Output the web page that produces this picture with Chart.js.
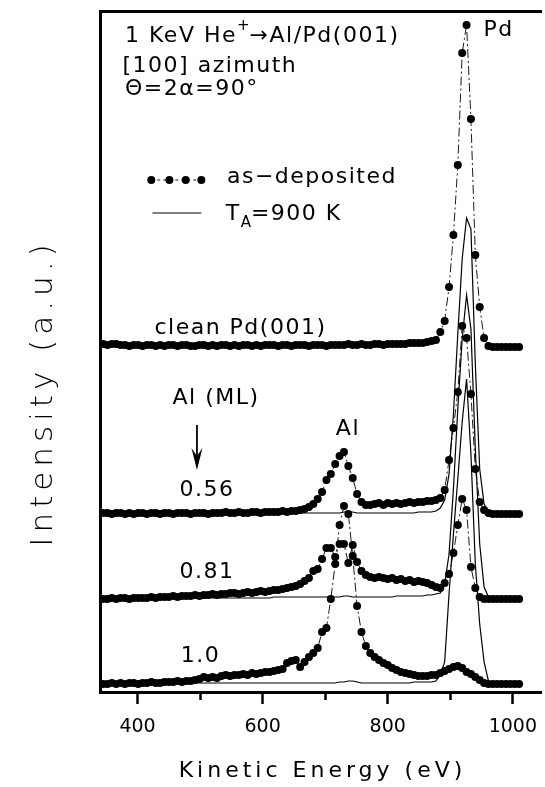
<!DOCTYPE html>
<html>
<head>
<meta charset="utf-8">
<script src="https://cdn.jsdelivr.net/npm/chart.js@4.4.0/dist/chart.umd.min.js"></script>
<style>
html,body{margin:0;padding:0;background:#fff;}
canvas{display:block;}
</style>
</head>
<body>
<canvas id="c" width="545" height="787"></canvas>
<script>
// ---------- data (energies in eV, intensities in arbitrary units above each spectrum's baseline) ----------
const energies = [
 345,352,359,366,373,380,387,394,401,408,
 415,422,429,436,443,450,457,464,471,478,
 485,492,499,506,513,520,527,534,541,548,
 555,562,569,576,583,590,597,604,611,618,
 625,632,639,646,653,660,667,674,681,688,
 695,702,709,716,723,730,737,744,751,758,
 765,772,779,786,793,800,807,814,821,828,
 835,842,849,856,863,870,877,884,891,898,
 905,912,919,926,933,940,947,954,961,968,
 975,982,989,996,1003,1010
];

// vertical offsets of the stacked spectra
const offsetClean = 346;
const offset056 = 178;
const offset081 = 93;
const offset10 = 8;

// clean Pd(001), as measured (dots)
const cleanDots = [
 2,1,2,2,1,1,0,1,1,0,
 1,1,0,1,0,1,1,0,1,1,
 0,0,1,1,0,1,0,1,1,0,
 1,0,1,1,0,1,0,1,1,1,
 0,1,1,0,1,1,1,0,1,1,
 1,0,1,1,1,1,2,1,1,2,
 1,1,2,2,1,2,2,2,2,2,
 3,3,3,3,4,5,6,14,25,59,
 111,181,293,321,227,91,39,8,0,-1,
 -1,-1,-1,-1,-1,-1
];

// 0.56 ML Al, as-deposited (dots)
const dots056 = [
 1,1,0,1,1,0,1,0,1,1,
 0,1,1,0,1,1,0,1,1,1,
 0,1,1,1,0,1,1,1,2,1,
 1,2,1,1,2,2,1,2,2,2,
 2,3,2,3,3,4,5,7,10,15,
 22,34,40,50,58,62,48,36,20,12,
 9,9,10,11,9,11,10,11,10,11,
 12,11,12,12,13,13,14,16,24,54,
 86,122,188,176,120,45,12,4,1,0,
 0,0,0,0,0,0
];
// 0.56 ML Al, annealed T_A = 900 K (line)
const line056 = [
 0,0,0,0,0,0,0,0,0,1,
 1,1,1,1,1,1,1,1,1,1,
 1,1,1,1,1,1,1,1,1,1,
 1,1,1,1,1,1,1,1,1,1,
 1,1,1,1,1,1,1,1,1,1,
 1,1,1,1,1,2,2,2,1,1,
 1,1,1,1,1,1,1,1,1,1,
 1,1,2,2,2,2,3,6,14,40,
 100,180,255,296,285,150,45,10,2,0,
 0,0,0,0,0,0
];

// 0.81 ML Al, as-deposited (dots)
const dots081 = [
 0,0,1,0,1,1,0,1,1,1,
 1,2,1,2,2,2,3,2,3,3,
 3,4,3,4,4,5,4,5,5,6,
 6,5,6,7,6,7,8,7,8,9,
 9,10,11,12,13,15,18,21,28,30,
 40,51,51,42,55,55,36,54,37,28,
 24,22,21,22,21,20,21,19,20,18,
 19,17,18,17,16,14,12,11,16,25,
 46,74,100,89,32,11,2,0,0,0,
 0,0,0,0,0,0
];
// 0.81 ML Al, annealed (line)
const line081 = [
 0,0,0,0,0,0,0,0,0,0,
 0,0,1,1,1,1,1,1,1,1,
 1,1,1,1,1,1,1,1,1,1,
 1,1,1,1,1,1,1,1,1,2,
 2,2,2,2,2,2,2,2,2,2,
 2,2,2,2,2,3,3,2,2,2,
 2,2,2,2,2,2,2,3,3,3,
 3,3,3,3,4,4,5,6,15,45,
 110,190,260,304,270,150,55,12,2,0,
 0,0,0,0,0,0
];

// 1.0 ML Al, as-deposited (dots)
const dots10 = [
 0,0,1,0,1,0,1,1,0,1,
 1,2,1,1,2,2,2,3,2,3,
 3,4,5,7,6,7,6,8,9,8,
 9,9,10,9,11,10,11,12,12,13,
 14,15,21,23,24,17,22,27,31,36,
 52,56,85,120,159,178,170,128,78,52,
 38,31,27,24,21,19,16,14,12,11,
 10,9,8,8,8,9,9,11,13,15,
 17,18,16,12,10,7,4,1,0,0,
 0,0,0,0,0,0
];
// 1.0 ML Al, annealed (line)
const line10 = [
 0,0,0,0,0,0,0,0,0,0,
 0,0,0,0,0,0,0,0,1,1,
 1,1,1,1,1,1,1,1,1,1,
 1,1,1,1,1,1,1,1,1,1,
 1,1,1,1,1,1,1,1,1,1,
 1,1,1,1,2,2,3,3,2,1,
 1,1,1,1,1,1,1,1,1,1,
 1,2,2,2,2,2,3,9,22,90,
 150,205,262,305,230,120,60,22,3,1,
 0,0,0,0,0,0
];

// axis ticks
const xTickValues = [400,500,600,700,800,900,1000];
const xTickLabels = ['400','','600','','800','','1000'];
const xTitle = 'Kinetic Energy (eV)';
const yTitle = 'Intensity (a.u.)';

// text annotations placed in data coordinates (energy, intensity)
const annotations = [
 {e:380, v:656, runs:[{t:'1 KeV He'},{t:'+',sup:true},{t:'\u2192Al/Pd(001)'}]},
 {e:376, v:626, runs:[{t:'[100] azimuth'}]},
 {e:380, v:603, runs:[{t:'\u0398=2\u03b1=90\u00b0'}]},
 {e:543, v:515, runs:[{t:'as\u2212deposited'}]},
 {e:541, v:478, runs:[{t:'T'},{t:'A',sub:true},{t:'=900 K'}]},
 {e:427, v:364, runs:[{t:'clean Pd(001)'}]},
 {e:953, v:662, runs:[{t:'Pd'}]},
 {e:456, v:294, runs:[{t:'Al (ML)'}]},
 {e:467, v:202, runs:[{t:'0.56'}]},
 {e:717, v:263, runs:[{t:'Al'}]},
 {e:467, v:120, runs:[{t:'0.81'}]},
 {e:469, v:36, runs:[{t:'1.0'}]}
];
const legendDotEnergies = [422, 451, 477, 502];
const legendDotLevel = 512;
const legendLine = {e1:424, e2:502, v:479};
const arrowSpec = {e:495, v1:267, v2:222};

// ---------- chart ----------
function toPoints(vals, off){ return energies.map((e,i)=>({x:e, y:vals[i]+off})); }
const dashPattern = [9,3,2,3];
function dotSet(label, vals, off){
  return {label, data:toPoints(vals,off), showLine:true, borderColor:'#000', borderWidth:0.9,
    borderDash:dashPattern, pointRadius:4, pointHoverRadius:4, pointBackgroundColor:'#000',
    pointBorderWidth:0, pointStyle:'circle', tension:0, fill:false};
}
function lineSet(label, vals, off){
  return {label, data:toPoints(vals,off), borderColor:'#000', borderWidth:1.2, pointRadius:0,
    pointHoverRadius:0, tension:0, fill:false};
}

const FONT = '"DejaVu Sans", sans-serif';

const annotPlugin = {
  id:'annot',
  afterDraw(chart){
    const ctx = chart.ctx, xs = chart.scales.x, ys = chart.scales.y;
    const X = e => xs.getPixelForValue(e), Y = v => ys.getPixelForValue(v);
    ctx.save();
    ctx.fillStyle = '#000'; ctx.strokeStyle = '#000';
    ctx.textBaseline = 'middle'; ctx.textAlign = 'left';
    const size = 22;
    for (const a of annotations){
      let x = X(a.e); const y = Y(a.v);
      for (const r of a.runs){
        const s = (r.sup||r.sub) ? 15 : size;
        ctx.font = s + 'px ' + FONT;
        ctx.letterSpacing = (r.sup||r.sub) ? '0px' : '1.5px';
        const dy = r.sup ? -10 : (r.sub ? 9 : 0);
        ctx.fillText(r.t, x, y + dy);
        x += ctx.measureText(r.t).width;
      }
    }
    ctx.letterSpacing = '0px';
    // legend: dots with dash-dot line
    ctx.lineWidth = 0.9; ctx.setLineDash([3,3]);
    ctx.beginPath();
    ctx.moveTo(X(legendDotEnergies[0]), Y(legendDotLevel));
    ctx.lineTo(X(legendDotEnergies[legendDotEnergies.length-1]), Y(legendDotLevel));
    ctx.stroke();
    ctx.setLineDash([]);
    for (const e of legendDotEnergies){
      ctx.beginPath(); ctx.arc(X(e), Y(legendDotLevel), 4, 0, Math.PI*2); ctx.fill();
    }
    // legend: solid line
    ctx.lineWidth = 1.2;
    ctx.beginPath(); ctx.moveTo(X(legendLine.e1), Y(legendLine.v)); ctx.lineTo(X(legendLine.e2), Y(legendLine.v)); ctx.stroke();
    // arrow
    const ax = X(arrowSpec.e), ay1 = Y(arrowSpec.v1), ay2 = Y(arrowSpec.v2);
    ctx.lineWidth = 1.8;
    ctx.beginPath(); ctx.moveTo(ax, ay1); ctx.lineTo(ax, ay2 - 6); ctx.stroke();
    ctx.beginPath(); ctx.moveTo(ax - 5.5, ay2 - 22); ctx.lineTo(ax, ay2); ctx.lineTo(ax + 5.5, ay2 - 22); ctx.lineTo(ax, ay2 - 14); ctx.closePath(); ctx.fill();
    // axis titles
    const ca = chart.chartArea;
    ctx.textAlign = 'center';
    ctx.font = '22px ' + FONT;
    ctx.letterSpacing = '4px';
    ctx.fillText(xTitle, (ca.left + ca.right)/2 + 2, 771);
    ctx.translate(44, 393);
    ctx.rotate(-Math.PI/2);
    ctx.font = '200 31px ' + FONT;
    ctx.letterSpacing = '5px';
    ctx.fillText(yTitle, 0, 0);
    ctx.restore();
  }
};

new Chart(document.getElementById('c').getContext('2d'), {
  type:'line',
  data:{datasets:[
    dotSet('clean Pd(001)', cleanDots, offsetClean),
    dotSet('0.56 ML as-deposited', dots056, offset056),
    lineSet('0.56 ML T_A=900 K', line056, offset056),
    dotSet('0.81 ML as-deposited', dots081, offset081),
    lineSet('0.81 ML T_A=900 K', line081, offset081),
    dotSet('1.0 ML as-deposited', dots10, offset10),
    lineSet('1.0 ML T_A=900 K', line10, offset10)
  ]},
  options:{
    responsive:false, animation:false, devicePixelRatio:1,
    layout:{padding:0},
    plugins:{legend:{display:false}, tooltip:{enabled:false}, title:{display:false}},
    scales:{
      x:{type:'linear', position:'bottom', min:340, max:1045,
        afterBuildTicks: ax => { ax.ticks = xTickValues.map(v => ({value:v})); },
        afterFit: ax => { ax.height = 95; ax.paddingLeft = 0; ax.paddingRight = 0; },
        ticks:{autoSkip:false, maxRotation:0, minRotation:0, padding:12, color:'#000',
          font:{family:FONT, size:19},
          callback: v => { const i = xTickValues.indexOf(v); return i >= 0 ? xTickLabels[i] : ''; }},
        grid:{display:true, drawOnChartArea:false, drawTicks:true, tickLength:12, tickColor:'#000', tickWidth:2.5,
          tickBorderDash: c => (c.tick && c.tick.value % 200 === 0) ? [] : [6, 40]},
        border:{display:true, color:'#000', width:3},
        title:{display:false}
      },
      xTop:{type:'linear', position:'top', min:340, max:1045,
        ticks:{display:false}, grid:{display:false, drawTicks:false},
        border:{display:true, color:'#000', width:3},
        afterFit: ax => { ax.height = 11; ax.paddingLeft = 0; ax.paddingRight = 0; }
      },
      y:{type:'linear', position:'left', min:0, max:681,
        ticks:{display:false}, grid:{display:false, drawTicks:false},
        border:{display:true, color:'#000', width:3},
        afterFit: ax => { ax.width = 100; ax.paddingTop = 0; ax.paddingBottom = 0; }
      }
    }
  },
  plugins:[annotPlugin]
});
</script>
</body>
</html>
